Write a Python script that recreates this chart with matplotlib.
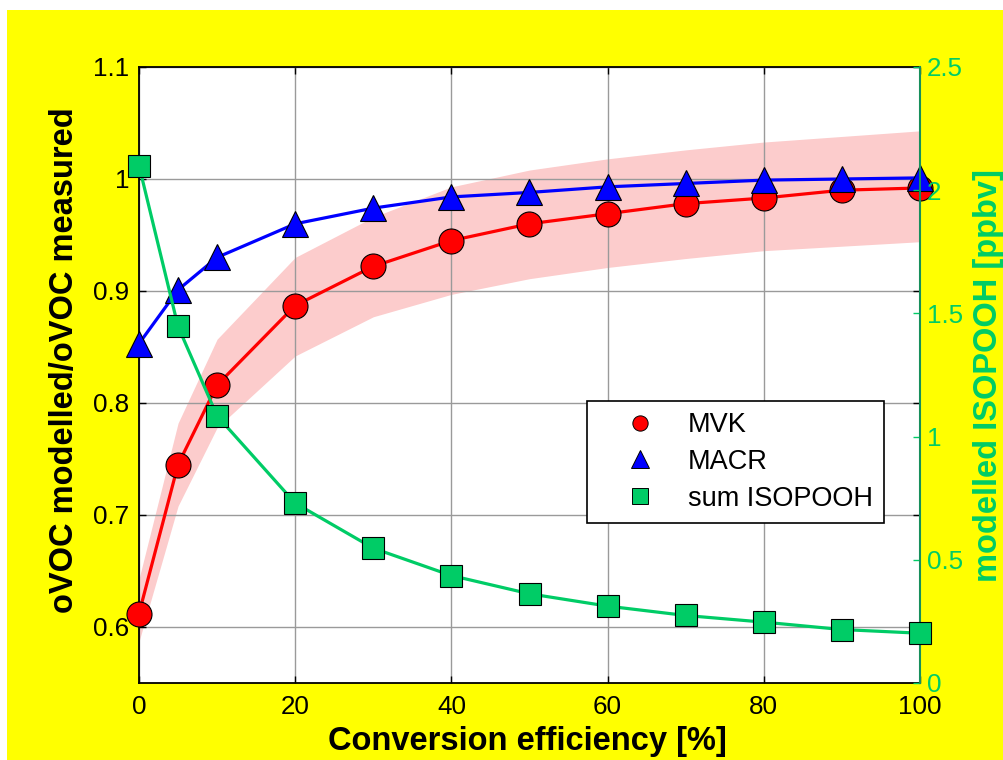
import matplotlib
matplotlib.use('Agg')
import matplotlib.pyplot as plt
from matplotlib.patches import Rectangle
from matplotlib.lines import Line2D
from matplotlib.ticker import FormatStrFormatter

plt.rcParams['font.family'] = ['Liberation Sans', 'DejaVu Sans']

# eficiencia de conversao [%]
conv = [0, 5, 10, 20, 30, 40, 50, 60, 70, 80, 90, 100]

# razao modelado/medido
mvk = [0.612, 0.745, 0.816, 0.887, 0.922, 0.945, 0.960, 0.969, 0.978, 0.983, 0.990, 0.992]
mvk_hi = [0.643, 0.782, 0.857, 0.930, 0.966, 0.993, 1.008, 1.018, 1.026, 1.033, 1.038, 1.043]
mvk_lo = [0.587, 0.708, 0.778, 0.842, 0.877, 0.897, 0.911, 0.921, 0.929, 0.936, 0.940, 0.944]
macr = [0.853, 0.901, 0.930, 0.960, 0.974, 0.984, 0.988, 0.993, 0.996, 0.999, 1.000, 1.001]

# ISOPOOH modelado [ppbv]
isopooh = [2.100, 1.447, 1.084, 0.730, 0.547, 0.436, 0.362, 0.312, 0.274, 0.247, 0.217, 0.202]

x_ticks = [0, 20, 40, 60, 80, 100]
y1_ticks = [0.6, 0.7, 0.8, 0.9, 1.0, 1.1]
y2_ticks = [0, 0.5, 1, 1.5, 2, 2.5]

verde = '#00CC66'
verde_eixo = '#178F5C'
W, H = 1004, 760

fig = plt.figure(figsize=(W / 100, H / 100), dpi=100)
fig.patch.set_facecolor('white')
fig.patches.append(Rectangle((7 / W, 0), 1, 1 - 10 / H, transform=fig.transFigure,
                             facecolor='yellow', edgecolor='none', zorder=-10))

ax1 = fig.add_axes([139 / W, 1 - 683 / H, (920 - 139) / W, (683 - 67) / H])
ax1.set_facecolor('white')
ax2 = ax1.twinx()

# faixa de incerteza do MVK
ax1.fill_between(conv, mvk_lo, mvk_hi, color='#FCCCCC', lw=0, zorder=1)
ax1.plot(conv, mvk, '-o', color='red', mfc='red', mec='black', mew=0.8, ms=18, lw=2.3,
         zorder=3, clip_on=False)
ax1.plot(conv, macr, '-^', color='blue', mfc='blue', mec='black', mew=0.8, ms=19, lw=2.3,
         zorder=4, clip_on=False)
ax2.plot(conv, isopooh, '-s', color=verde, mfc=verde, mec='black', mew=0.8, ms=16, lw=2.3,
         zorder=5, clip_on=False)

ax1.set_xlim(0, 100)
ax1.set_ylim(0.55, 1.1)
ax2.set_ylim(0, 2.5)
ax1.set_xticks(x_ticks)
ax1.set_yticks(y1_ticks)
ax2.set_yticks(y2_ticks)
ax1.yaxis.set_major_formatter(FormatStrFormatter('%g'))
ax2.yaxis.set_major_formatter(FormatStrFormatter('%g'))

ax1.grid(True, color='#9A9A9A', lw=1.0)
ax1.tick_params(axis='both', direction='in', length=5, width=1, labelsize=18.7,
                top=True, right=True, labelright=False)
ax1.tick_params(axis='x', pad=9)
ax1.tick_params(axis='y', pad=7)
ax2.tick_params(axis='y', direction='in', length=5, width=1, labelsize=18.7,
                colors=verde, pad=5)

for s in ['left', 'top', 'bottom']:
    ax1.spines[s].set_linewidth(1.3)
    ax2.spines[s].set_visible(False)
ax1.spines['right'].set_visible(False)
ax2.spines['right'].set_color(verde_eixo)
ax2.spines['right'].set_linewidth(1.5)

fig.text(527 / W, 1 - 750 / H, 'Conversion efficiency [%]', fontsize=23.5,
         fontweight='bold', ha='center', va='baseline')
fig.text(73 / W, 1 - 360 / H, 'oVOC modelled/oVOC measured', fontsize=23.5,
         fontweight='bold', rotation=90, rotation_mode='anchor',
         ha='center', va='baseline')
fig.text(997 / W, 1 - 376 / H, 'modelled ISOPOOH [ppbv]', fontsize=23.5,
         fontweight='bold', color=verde, rotation=90, rotation_mode='anchor',
         ha='center', va='baseline')

handles = [
    Line2D([], [], ls='none', marker='o', ms=11, mfc='red', mec='black', mew=0.7),
    Line2D([], [], ls='none', marker='^', ms=13, mfc='blue', mec='black', mew=0.7),
    Line2D([], [], ls='none', marker='s', ms=11, mfc=verde, mec='black', mew=0.7),
]
leg = ax2.legend(handles, ['MVK', 'MACR', 'sum ISOPOOH'], loc='upper left',
                 bbox_to_anchor=(587 / W, 1 - 401 / H), bbox_transform=fig.transFigure,
                 fontsize=19.5, fancybox=False, framealpha=1, edgecolor='black',
                 borderaxespad=0, borderpad=0.42, handlelength=3.1,
                 handletextpad=0.2, labelspacing=0.39)
leg.get_frame().set_linewidth(1.2)
leg.set_zorder(10)

fig.savefig('out.png', dpi=100, facecolor=fig.get_facecolor())
